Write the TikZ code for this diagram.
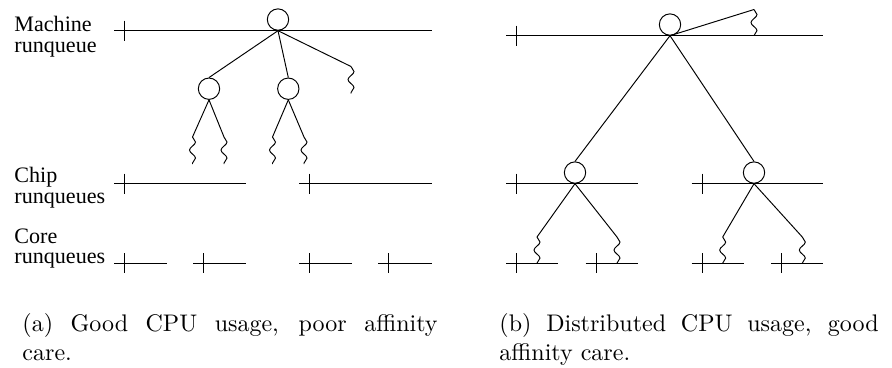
\documentclass[tikz,border=0pt]{standalone}
\usepackage{fontspec}
\newfontfamily\figfont{Liberation Serif}
\usetikzlibrary{positioning,decorations.pathmorphing}
\tolerance=9999
\hyphenpenalty=10000

\begin{document}
\begin{tikzpicture}[x=0.4167pt,y=-0.4167pt,
    cpu/.style={draw,circle,inner sep=0pt,minimum size=8.9pt},
    wiggle/.style={decorate,decoration={snake,amplitude=1.25pt,segment length=6.7pt}},
    lbl/.style={anchor=north west,inner sep=0pt,align=left,font=\figfont\fontsize{9.2}{8.7}\selectfont},
    capt/.style={anchor=north west,inner sep=0pt,align=justify,font=\fontsize{10}{12}\selectfont}]
  \useasboundingbox (0,0) rectangle (892,367);

  % row labels
  \node[lbl] (lm) at (14,16) {Machine\\runqueue};
  \node[lbl] (lc) at (14,167) {Chip\\runqueues};
  \node[lbl] (lk) at (14,228) {Core\\runqueues};

  % runqueues: start/level/length, tick near the start
  \foreach \x/\y/\l in {114/30.7/318, 114/183.7/132, 299.3/183.7/132.4,
      114/263.3/52.7, 193.3/263.3/52.7, 299.3/263.3/52.4, 378.3/263.3/53.4,
      506/35.7/317.3, 506/183.7/132.3, 691.7/183.7/131.6,
      506/263.3/52.3, 585.7/263.3/52.6, 691.7/263.3/52.3, 771/263.3/52.3}
    \draw (\x,\y) -- ++(\l,0) (\x+10.3,\y-10) -- ++(0,20);

  % (a) one machine queue feeding everything
  \node[cpu,anchor=south] (m) at (278,30.7) {};
  \node[cpu] (c1) at (209,88.7) {};
  \node[cpu] (c2) at (288.3,88.7) {};
  \coordinate (t0) at (351,66.5);
  \coordinate (t1) at (192.5,137);
  \coordinate (t2) at (224,137);
  \coordinate (t3) at (272.5,137);
  \coordinate (t4) at (304,137);
  \draw (m.south) -- (c1.north);
  \draw (m.south) -- (c2.north);
  \draw (m.south) -- (t0);
  \draw (c1.south) -- (t1);
  \draw (c1.south) -- (t2);
  \draw (c2.south) -- (t3);
  \draw (c2.south) -- (t4);
  \foreach \t in {t0,t1,t2,t3,t4}
    \draw[wiggle] (\t) -- ++(0,27);

  % (b) work spread down to the chips and cores
  \node[cpu,anchor=south] (rm) at (670,35.7) {};
  \node[cpu,anchor=south] (rc1) at (575,183.7) {};
  \node[cpu,anchor=south] (rc2) at (754,183.7) {};
  \coordinate (r0) at (754,9.5);
  \coordinate (r1) at (537,237);
  \coordinate (r2) at (617,237);
  \coordinate (r3) at (722.7,237);
  \coordinate (r4) at (802.3,237);
  \draw (rm.south) -- (r0);
  \draw (rm.south) -- (rc1.north);
  \draw (rm.south) -- (rc2.north);
  \draw (rc1.south) -- (r1);
  \draw (rc1.south) -- (r2);
  \draw (rc2.south) -- (r3);
  \draw (rc2.south) -- (r4);
  \foreach \t in {r0,r1,r2,r3,r4}
    \draw[wiggle] (\t) -- ++(0,26.3);

  % captions
  \node[capt,text width=173pt] (sa) at (22,313) {(a) Good CPU usage, poor affinity\linebreak care.};
  \node[capt,text width=158pt] (sb) at (499,313) {(b) Distributed CPU usage, good affinity care.};
\end{tikzpicture}
\end{document}
